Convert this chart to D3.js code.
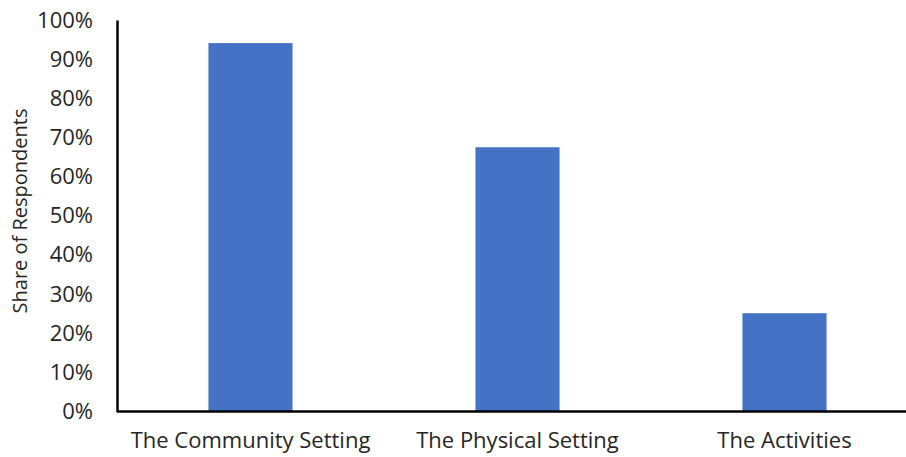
<!DOCTYPE html>
<html>
<head>
<meta charset="utf-8">
<script src="https://cdn.jsdelivr.net/npm/d3@7"></script>
<style>
  html, body { margin: 0; padding: 0; background: #fff; }
  svg { display: block; }
  text { font-family: "Open Sans", "DejaVu Sans", sans-serif; fill: #262626; }
</style>
</head>
<body>
<svg id="chart" width="906" height="457"></svg>
<script>
// Share of respondents by what they value most
const categories = ["The Community Setting", "The Physical Setting", "The Activities"];
const shares = [94.1, 67.5, 25.1];
const yTicks = [0, 10, 20, 30, 40, 50, 60, 70, 80, 90, 100];
const yTitle = "Share of Respondents";

const svg = d3.select("#chart");
const plot = { left: 117, right: 918, top: 20, bottom: 411.5 };

const x = d3.scaleBand()
  .domain(categories)
  .range([plot.left, plot.right])
  .paddingInner(0.685)
  .paddingOuter(0.3425);

const y = d3.scaleLinear().domain([0, 100]).range([plot.bottom, plot.top]);

// bars
svg.append("g")
  .selectAll("rect")
  .data(categories)
  .join("rect")
  .attr("x", d => x(d))
  .attr("width", x.bandwidth())
  .attr("y", (d, i) => y(shares[i]))
  .attr("height", (d, i) => y(0) - y(shares[i]))
  .attr("fill", "#4472C4");

// y axis
const yAxis = d3.axisLeft(y)
  .tickValues(yTicks)
  .tickFormat(d => d + "%")
  .tickSize(0)
  .tickPadding(24);

const gy = svg.append("g")
  .attr("transform", `translate(${plot.left},0)`)
  .call(yAxis);
gy.select(".domain").attr("stroke", "#000").attr("stroke-width", 2.5);
gy.selectAll("text").attr("font-size", 22).attr("fill", "#262626")
  .style("font-family", '"Open Sans", sans-serif');

// x axis
const xAxis = d3.axisBottom(x).tickSize(0).tickPadding(21);
const gx = svg.append("g")
  .attr("transform", `translate(0,${plot.bottom})`)
  .call(xAxis);
gx.select(".domain").attr("d", `M${plot.left},0H906`).attr("stroke", "#000").attr("stroke-width", 2.5);
gx.selectAll("text").attr("font-size", 22).attr("fill", "#262626")
  .style("font-family", '"Open Sans", sans-serif');

// y axis title
svg.append("text")
  .attr("transform", "translate(27,211) rotate(-90)")
  .attr("text-anchor", "middle")
  .attr("font-size", 20)
  .text(yTitle);
</script>
</body>
</html>
